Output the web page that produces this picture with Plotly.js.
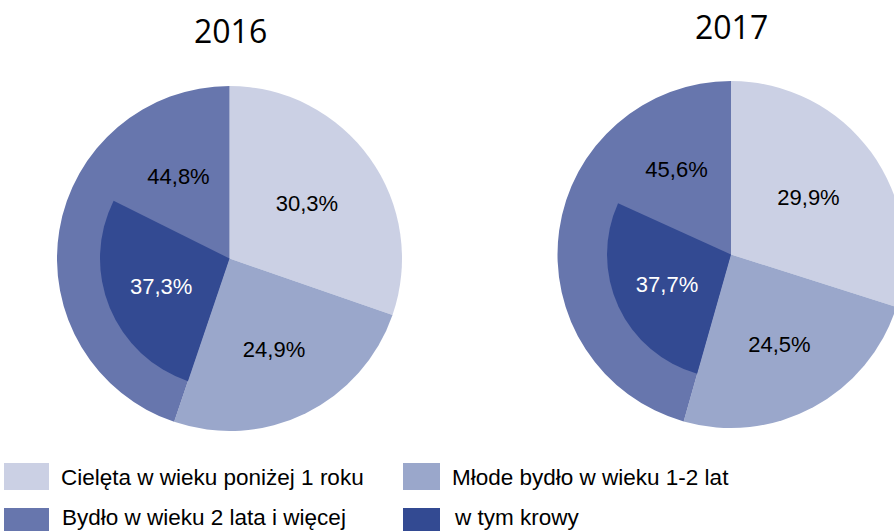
<!DOCTYPE html>
<html>
<head>
<meta charset="utf-8">
<script src="https://cdn.plot.ly/plotly-3.0.1.min.js"></script>
<style>
  html, body { margin: 0; padding: 0; overflow: hidden; background: #ffffff; }
  #chart { width: 910px; height: 531px; }
</style>
</head>
<body>
<div id="chart"></div>
<script>
// ---- data ----
const categories = ['Cielęta w wieku poniżej 1 roku', 'Młode bydło w wieku 1-2 lat', 'Bydło w wieku 2 lata i więcej', 'w tym krowy'];
const years = ['2016', '2017'];
const calves = [30.3, 29.9];   // Cielęta w wieku poniżej 1 roku (%)
const young  = [24.9, 24.5];   // Młode bydło w wieku 1-2 lat (%)
const adult  = [44.8, 45.6];   // Bydło w wieku 2 lata i więcej (%)
const cows   = [37.3, 37.7];   // w tym krowy (%)

// ---- style ----
const colors = ['#CBD0E4', '#9AA7CB', '#6776AD', '#334A92'];
const W = 910, H = 531;
const clear = 'rgba(0,0,0,0)';
const fmt = v => v.toFixed(1).replace('.', ',') + '%';

// pie geometry in pixels: [cx, cy, rOuter, rInner, rLabel]
const geom = [[229.5, 258.5, 172.5, 129.5, 148], [731, 254.5, 173.5, 124, 155]];
function dom(cx, cy, r, hy) {
  return { x: [(cx - r) / W, (cx + r) / W], y: [1 - cy / H - hy, 1 - cy / H + hy] };
}

const labelFont = { family: 'Liberation Sans, Arial, sans-serif', size: 22 };
const common = {
  type: 'pie', sort: false, direction: 'clockwise',
  textinfo: 'text', texttemplate: '%{text}', textposition: 'inside',
  insidetextorientation: 'horizontal', hoverinfo: 'skip', showlegend: false
};
const traces = [];
years.forEach((yr, i) => {
  const [cx, cy, rO, rI, rL] = geom[i];
  const total = 100 + cows[i];                       // cows wedge drawn against the whole herd
  const upper = adult[i] / 100 * total - cows[i];    // part of the 2+ slice above the cows wedge
  const lower = total - upper;
  // outer pie: the three age groups
  traces.push(Object.assign({}, common, {
    rotation: 0,
    labels: categories.slice(0, 3),
    values: [calves[i], young[i], adult[i]],
    text: [fmt(calves[i]), fmt(young[i]), ''],
    textfont: Object.assign({ color: '#000000' }, labelFont),
    marker: { colors: colors.slice(0, 3), line: { width: 0 } },
    domain: dom(cx, cy, rO, 0.34)
  }));
  // inner pie: the cows wedge
  traces.push(Object.assign({}, common, {
    rotation: (calves[i] + young[i]) / 100 * 360,
    labels: ['krowy', 'reszta'],
    values: [cows[i], total - cows[i]],
    text: [fmt(cows[i]), ''],
    textfont: Object.assign({ color: '#ffffff' }, labelFont),
    marker: { colors: [colors[3], clear], line: { width: 0 } },
    domain: dom(cx, cy, rI, 0.3)
  }));
  // transparent label carrier for the 2+ slice label (above the cows wedge)
  traces.push(Object.assign({}, common, {
    rotation: 0,
    labels: ['dół', 'góra'],
    values: [lower, upper],
    text: ['', fmt(adult[i])],
    textfont: Object.assign({ color: '#000000' }, labelFont),
    marker: { colors: [clear, clear], line: { width: 0 } },
    domain: dom(cx, cy, rL, 0.32)
  }));
});

// titles
const annotations = [
  { text: years[0], x: 230 / W, y: 1 - 30.5 / H },
  { text: years[1], x: 731.5 / W, y: 1 - 27 / H }
].map(a => Object.assign({
  xref: 'paper', yref: 'paper', xanchor: 'center', yanchor: 'middle', showarrow: false,
  font: { family: 'Open Sans, sans-serif', size: 32, color: '#000000' }
}, a));

// legend (2 x 2)
const legendItems = [
  { k: 0, sx: [4, 49], sy: [463, 490], tx: 59, ty: 477 },
  { k: 1, sx: [403, 440], sy: [463, 490], tx: 450, ty: 477 },
  { k: 2, sx: [4, 49], sy: [508, 536], tx: 60, ty: 517 },
  { k: 3, sx: [403, 440], sy: [508, 536], tx: 452, ty: 517 }
];
const shapes = [];
legendItems.forEach(it => {
  shapes.push({
    type: 'rect', xref: 'paper', yref: 'paper',
    x0: it.sx[0] / W, x1: it.sx[1] / W, y0: 1 - it.sy[1] / H, y1: 1 - it.sy[0] / H,
    fillcolor: colors[it.k], line: { width: 0 }
  });
  annotations.push({
    xref: 'paper', yref: 'paper', x: it.tx / W, y: 1 - it.ty / H,
    xanchor: 'left', yanchor: 'middle', showarrow: false, text: categories[it.k],
    font: { family: 'Liberation Sans, Arial, sans-serif', size: 22.5, color: '#000000' }
  });
});

Plotly.newPlot('chart', traces, {
  width: W, height: H,
  margin: { l: 0, r: 0, t: 0, b: 0, pad: 0 },
  paper_bgcolor: '#ffffff', plot_bgcolor: '#ffffff',
  showlegend: false,
  annotations: annotations, shapes: shapes
}, { displayModeBar: false, staticPlot: true });
</script>
</body>
</html>
